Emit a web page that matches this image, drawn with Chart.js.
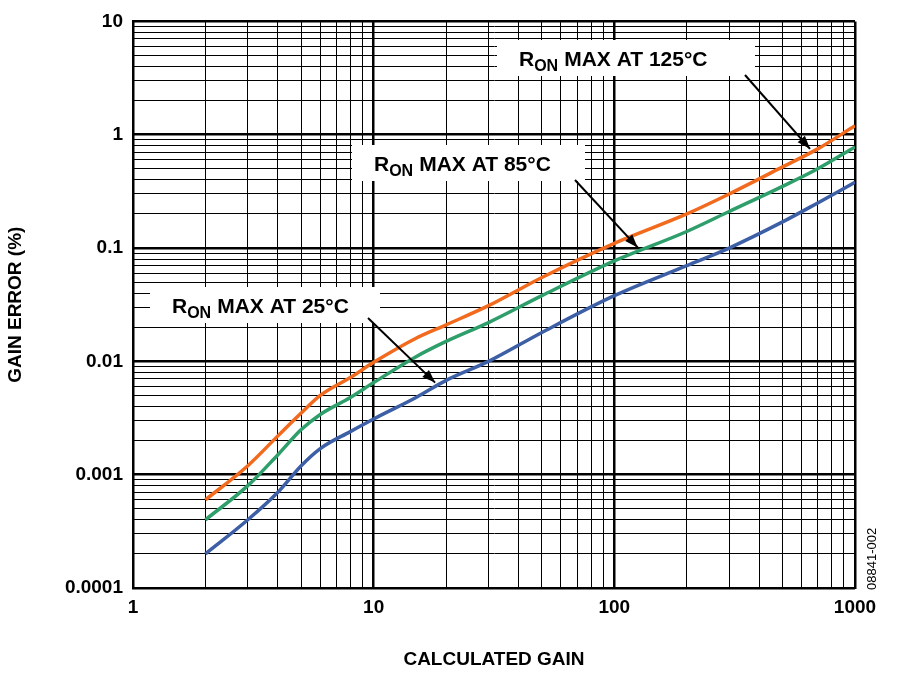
<!DOCTYPE html>
<html><head><meta charset="utf-8">
<script src="https://cdn.jsdelivr.net/npm/chart.js@4"></script>
<style>body{margin:0;background:#fff}#w{width:900px;height:675px}</style>
</head><body><div id="w"><canvas id="c"></canvas></div>
<script>
const gains = [2, 3, 4, 5, 6, 8, 10, 15, 20, 30, 50, 100, 200, 300, 500, 700, 1000];
const err125 = [0.0006, 0.0012, 0.0022, 0.0035, 0.005, 0.0072, 0.0098, 0.016, 0.021, 0.031, 0.055, 0.11, 0.2, 0.3, 0.52, 0.75, 1.2];
const err85 = [0.0004, 0.0008, 0.0015, 0.0025, 0.0034, 0.0048, 0.0065, 0.011, 0.015, 0.022, 0.038, 0.077, 0.14, 0.21, 0.35, 0.5, 0.78];
const err25 = [0.0002, 0.0004, 0.0007, 0.0012, 0.0017, 0.0024, 0.0031, 0.0048, 0.0068, 0.01, 0.018, 0.038, 0.07, 0.1, 0.17, 0.25, 0.38];
const xTickLabels = [1, 10, 100, 1000];
const yTickLabels = [0.0001, 0.001, 0.01, 0.1, 1, 10];
const labels = [
  {t:"125°C", x:497, y:40, w:258, h:36, ax:745, ay:75, g:650, s:0},
  {t:"85°C", x:352, y:145, w:233, h:36, ax:575, ay:180, g:125, s:1},
  {t:"25°C", x:150, y:287, w:230, h:36, ax:368, ay:318, g:18, s:2}
];
const F = "'Liberation Sans', Arial, sans-serif";
function logTicks(min,max){const t=[];for(let d=min;d<max;d*=10){for(let k=1;k<10;k++)t.push({value:+(d*k).toPrecision(6)});}t.push({value:max});return t;}
function isMajor(v){const l=Math.log10(v);return Math.abs(l-Math.round(l))<1e-6;}
function grid(ctx){const v=ctx.tick&&ctx.tick.value;return v&&isMajor(v)?2.5:1;}
const annot = {id:'annot', afterDatasetsDraw(ch){
  const c=ch.ctx, xs=ch.scales.x, ys=ch.scales.y;
  const sets=[err125,err85,err25];
  labels.forEach(L=>{
    c.save();
    c.fillStyle='#fff';c.fillRect(L.x,L.y,L.w,L.h);
    c.fillStyle='#000';c.textBaseline='alphabetic';
    c.font='bold 21px '+F;let px=L.x+22, by=L.y+26;
    c.fillText('R',px,by);px+=c.measureText('R').width;
    c.font='bold 16px '+F;c.fillText('ON',px,by+5);px+=c.measureText('ON').width+6;
    c.font='bold 21px '+F;c.fillText('MAX AT '+L.t,px,by);
    const d=sets[L.s];let i=0;while(i<gains.length-2&&gains[i+1]<L.g)i++;
    const f=(Math.log(L.g)-Math.log(gains[i]))/(Math.log(gains[i+1])-Math.log(gains[i]));
    const v=Math.exp(Math.log(d[i])+f*(Math.log(d[i+1])-Math.log(d[i])));
    const tx=xs.getPixelForValue(L.g), ty=ys.getPixelForValue(v)-4;
    c.strokeStyle='#000';c.lineWidth=2;c.beginPath();c.moveTo(L.ax,L.ay);c.lineTo(tx,ty);c.stroke();
    const a=Math.atan2(ty-L.ay,tx-L.ax);
    c.beginPath();c.moveTo(tx,ty);c.lineTo(tx-14*Math.cos(a-0.35),ty-14*Math.sin(a-0.35));
    c.lineTo(tx-14*Math.cos(a+0.35),ty-14*Math.sin(a+0.35));c.closePath();c.fill();
    c.restore();
  });
  c.save();c.translate(876,590);c.rotate(-Math.PI/2);c.font='13px '+F;c.fillStyle='#000';c.fillText('08841-002',0,0);c.restore();
}};
function ds(d,col){return {data:gains.map((g,i)=>({x:g,y:d[i]})),borderColor:col,borderWidth:3.5,pointRadius:0,cubicInterpolationMode:'monotone',fill:false};}
new Chart(document.getElementById('c'),{type:'line',
 data:{datasets:[ds(err125,'#f26a1d'),ds(err85,'#2e9e6b'),ds(err25,'#3d5fa6')]},
 options:{responsive:true,maintainAspectRatio:false,animation:false,
  layout:{padding:{top:4,right:45,left:0,bottom:0}},
  plugins:{legend:{display:false},tooltip:{enabled:false}},
  scales:{
   x:{type:'logarithmic',min:1,max:1000,afterBuildTicks:s=>{s.ticks=logTicks(1,1000);},
      afterFit:s=>{s.height=87;},
      ticks:{autoSkip:false,maxRotation:0,color:'#000',font:{family:F,weight:'bold',size:19},padding:8,
        callback:v=>xTickLabels.includes(v)?String(v):''},
      grid:{color:'#000',lineWidth:grid,drawTicks:false},border:{color:'#000',width:2},
      title:{display:true,text:'CALCULATED GAIN',color:'#000',font:{family:F,weight:'bold',size:19},padding:{top:18}}},
   y:{type:'logarithmic',min:0.0001,max:10,afterBuildTicks:s=>{s.ticks=logTicks(0.0001,10);},
      afterFit:s=>{s.width=133;},
      ticks:{autoSkip:false,color:'#000',font:{family:F,weight:'bold',size:19},padding:10,
        callback:v=>{const m=yTickLabels.find(t=>Math.abs(t-v)/t<1e-6);return m!==undefined?String(m):'';}},
      grid:{color:'#000',lineWidth:grid,drawTicks:false},border:{color:'#000',width:2},
      title:{display:true,text:'GAIN ERROR (%)',color:'#000',font:{family:F,weight:'bold',size:19},padding:{bottom:2}}}
  }},
 plugins:[annot]});
</script></body></html>
